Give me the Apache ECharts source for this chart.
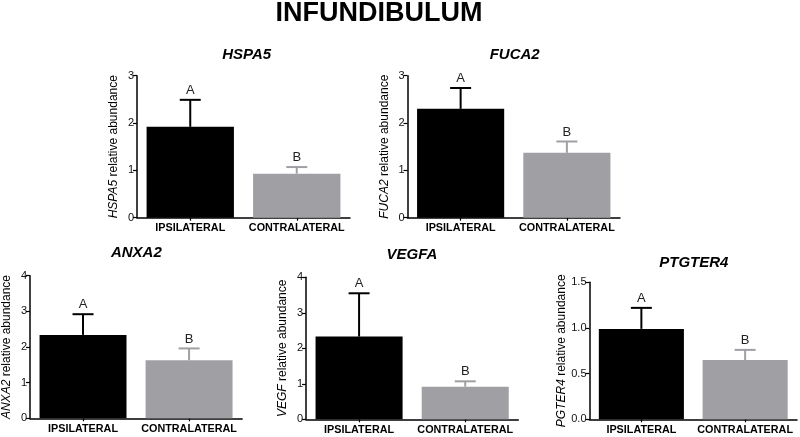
<!DOCTYPE html>
<html>
<head>
<meta charset="utf-8">
<script src="https://cdn.jsdelivr.net/npm/echarts@6/dist/echarts.min.js"></script>
<style>html,body{margin:0;padding:0;background:#fff;}#c{width:800px;height:437px;}</style>
</head>
<body>
<div id="c"></div>
<script>
// ---- data ----
var mainTitle = 'INFUNDIBULUM';
var genes = ['HSPA5', 'FUCA2', 'ANXA2', 'VEGFA', 'PTGTER4'];
var yLabelGenes = ['HSPA5', 'FUCA2', 'ANXA2', 'VEGF', 'PGTER4'];
var categories = ['IPSILATERAL', 'CONTRALATERAL'];
var ipsiMean = [1.92, 2.30, 2.34, 2.33, 0.99];
var contraMean = [0.93, 1.37, 1.63, 0.92, 0.65];
var ipsiErrTop = [2.49, 2.74, 2.92, 3.55, 1.22];
var contraErrTop = [1.07, 1.61, 1.96, 1.07, 0.76];
var letters = ['A', 'B'];
var yMax = [3, 3, 4, 4, 1.5];
var yInterval = [1, 1, 1, 1, 0.5];
var yDecimals = [0, 0, 0, 0, 1];

// ---- layout / style ----
var FONT = '"Liberation Sans", Arial, Helvetica, sans-serif';
var barColors = ['#000000', '#a0a0a4'];
var grids = [
  {left: 137, top: 75.7, width: 213, height: 142},
  {left: 407.5, top: 75.7, width: 212.5, height: 142},
  {left: 29.5, top: 275.7, width: 212.6, height: 142.6},
  {left: 306, top: 277.3, width: 212.3, height: 142},
  {left: 589.5, top: 282.3, width: 207.5, height: 137}
];
var titlePos = [[246.7, 55], [514.7, 55], [136.3, 253.3], [412, 254.7], [693.8, 263.3]];
var nameGaps = [17, 17, 17, 17, 21];

var titles = [{
  text: mainTitle, left: 379, top: 14, textAlign: 'center', textVerticalAlign: 'middle', padding: 0,
  textStyle: {fontFamily: FONT, fontSize: 27, fontWeight: 'bold', color: '#000'}
}];
var xAxes = [], yAxes = [], series = [];

genes.forEach(function (g, i) {
  titles.push({
    text: g, left: titlePos[i][0], top: titlePos[i][1], textAlign: 'center', textVerticalAlign: 'middle', padding: 0,
    textStyle: {fontFamily: FONT, fontSize: 15, fontWeight: 'bold', fontStyle: 'italic', color: '#000'}
  });
  xAxes.push({
    type: 'category', gridIndex: i, data: categories,
    axisLine: {lineStyle: {color: '#000', width: 1.5}},
    axisTick: {show: true, alignWithLabel: true, length: 3, lineStyle: {color: '#000', width: 1.2}},
    axisLabel: {interval: 0, hideOverlap: false, fontFamily: FONT, fontSize: 10.8, fontWeight: 'bold', color: '#000', margin: 5}
  });
  (function (dec) {
    yAxes.push({
      type: 'value', gridIndex: i, min: 0, max: yMax[i], interval: yInterval[i],
      name: '{i|' + yLabelGenes[i] + '} relative abundance',
      nameLocation: 'middle', nameRotate: 90, nameGap: nameGaps[i],
      nameTextStyle: {fontFamily: FONT, fontSize: 12, color: '#000',
        rich: {i: {fontFamily: FONT, fontSize: 12, fontStyle: 'italic', color: '#000'}}},
      axisLine: {show: true, lineStyle: {color: '#000', width: 1.5}},
      axisTick: {show: true, length: 4, lineStyle: {color: '#000', width: 1.2}},
      axisLabel: {fontFamily: FONT, fontSize: 11, color: '#111', margin: 3,
        formatter: function (v) { return v.toFixed(dec); }},
      splitLine: {show: false}
    });
  })(yDecimals[i]);
  series.push({
    type: 'bar', xAxisIndex: i, yAxisIndex: i, barWidth: '82%',
    data: [
      {value: ipsiMean[i], itemStyle: {color: barColors[0]}},
      {value: contraMean[i], itemStyle: {color: barColors[1]}}
    ],
    silent: true
  });
  series.push({
    type: 'custom', xAxisIndex: i, yAxisIndex: i, silent: true, z: 5,
    data: [[0, ipsiMean[i], ipsiErrTop[i]], [1, contraMean[i], contraErrTop[i]]],
    renderItem: function (params, api) {
      var idx = api.value(0);
      var base = api.coord([idx, api.value(1)]);
      var top = api.coord([idx, api.value(2)]);
      var col = barColors[idx];
      var half = 10.5;
      return {
        type: 'group',
        children: [
          {type: 'line', shape: {x1: base[0], y1: base[1], x2: top[0], y2: top[1]},
            style: {stroke: col, lineWidth: 2}},
          {type: 'line', shape: {x1: top[0] - half, y1: top[1], x2: top[0] + half, y2: top[1]},
            style: {stroke: col, lineWidth: 2}},
          {type: 'text', x: top[0], y: top[1] - 3,
            style: {text: letters[idx], fill: '#222', font: '13px ' + FONT,
              align: 'center', verticalAlign: 'bottom'}}
        ]
      };
    }
  });
});

var chart = echarts.init(document.getElementById('c'), null, {renderer: 'canvas'});
chart.setOption({
  animation: false,
  backgroundColor: '#fff',
  title: titles,
  grid: grids,
  xAxis: xAxes,
  yAxis: yAxes,
  series: series
});
</script>
</body>
</html>
